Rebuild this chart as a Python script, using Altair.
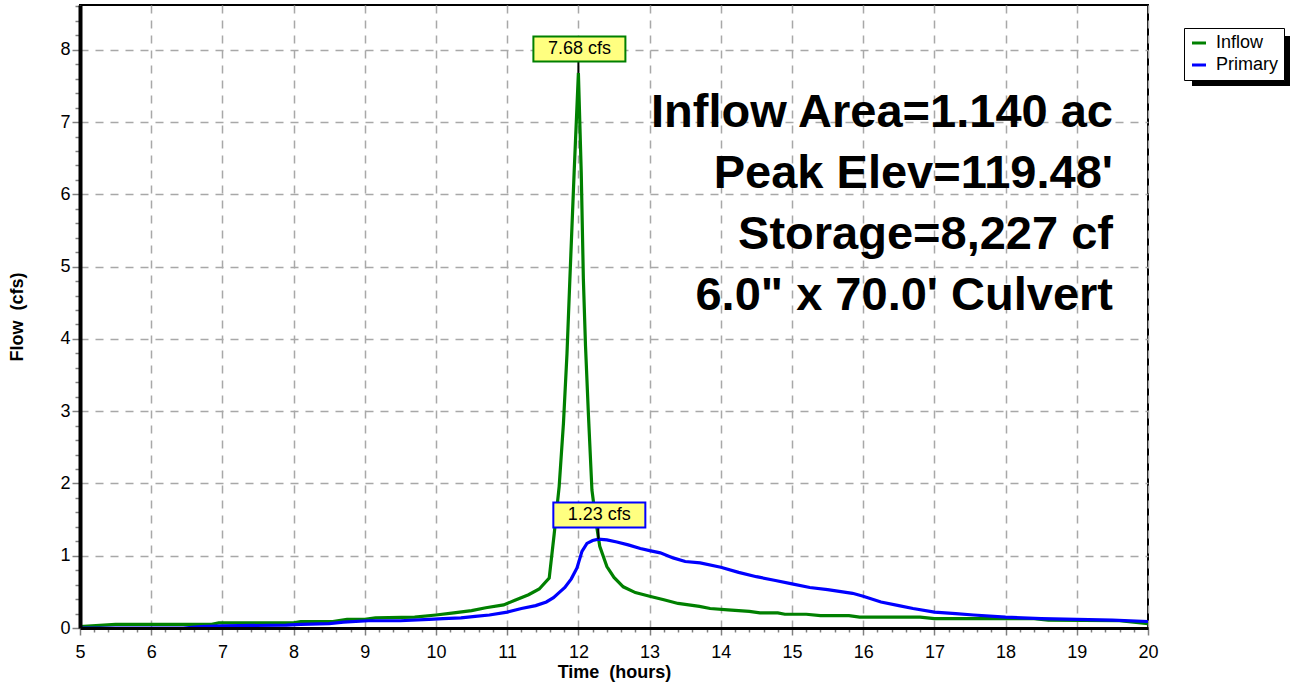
import altair as alt
import pandas as pd

FONT = "Liberation Sans"

# Hydrograph ordinates (hours, cfs)
inflow_time = [5.0, 5.5, 6.85, 6.95, 8.0, 8.1, 8.55, 8.75, 9.0, 9.15, 9.7, 10.0, 10.25,
               10.5, 10.7, 10.95, 11.1, 11.3, 11.45, 11.59, 11.66, 11.73, 11.79, 11.84,
               11.88, 11.94, 12.0, 12.04, 12.07, 12.1, 12.14, 12.19, 12.25, 12.3, 12.4,
               12.5, 12.63, 12.8, 13.0, 13.2, 13.4, 13.7, 13.85, 14.1, 14.4, 14.55, 14.8,
               14.9, 15.2, 15.4, 15.8, 15.95, 16.8, 17.0, 18.4, 18.6, 19.6, 20.0]
inflow_cfs = [0.02, 0.05, 0.05, 0.07, 0.07, 0.09, 0.09, 0.12, 0.12, 0.14, 0.15, 0.18, 0.21,
              0.24, 0.28, 0.32, 0.38, 0.46, 0.54, 0.69, 1.30, 1.96, 2.83, 3.80,
              4.82, 6.30, 7.68, 6.30, 4.82, 3.90, 2.97, 1.91, 1.45, 1.13, 0.85,
              0.70, 0.57, 0.49, 0.44, 0.39, 0.34, 0.30, 0.27, 0.25, 0.23, 0.21, 0.21,
              0.19, 0.19, 0.17, 0.17, 0.15, 0.15, 0.13, 0.13, 0.11, 0.10, 0.06]

primary_time = [5.0, 6.45, 6.7, 7.0, 7.9, 8.1, 8.5, 8.7, 9.05, 9.5, 9.9, 10.1, 10.35, 10.55,
                10.75, 11.0, 11.2, 11.4, 11.55, 11.65, 11.74, 11.81, 11.9, 11.98, 12.05,
                12.12, 12.2, 12.28, 12.4, 12.54, 12.7, 12.87, 13.0, 13.15, 13.33, 13.5,
                13.71, 14.0, 14.25, 14.5, 14.75, 15.0, 15.25, 15.5, 15.85, 16.0, 16.25,
                16.5, 16.7, 17.0, 17.3, 17.55, 18.0, 18.5, 19.0, 19.5, 20.0]
primary_cfs = [0.0, 0.0, 0.02, 0.03, 0.04, 0.05, 0.06, 0.08, 0.10, 0.10, 0.12, 0.13, 0.14, 0.16,
               0.18, 0.22, 0.27, 0.31, 0.36, 0.42, 0.50, 0.56, 0.68, 0.83, 1.06,
               1.17, 1.21, 1.23, 1.22, 1.19, 1.15, 1.10, 1.07, 1.04, 0.97, 0.92,
               0.90, 0.84, 0.77, 0.71, 0.66, 0.61, 0.56, 0.53, 0.48, 0.44, 0.36,
               0.31, 0.27, 0.22, 0.20, 0.18, 0.15, 0.13, 0.12, 0.11, 0.09]

series_names = ["Inflow", "Primary"]
series_colors = ["#008000", "#0000ff"]

peak_times = [12.0, 12.28]
peak_cfs = [7.68, 1.23]

info_lines = ["Inflow Area=1.140 ac", "Peak Elev=119.48'", "Storage=8,227 cf",
              "6.0\" x 70.0' Culvert"]

x_major = list(range(5, 21))
y_major = list(range(0, 9))
x_minor = [round(5 + 0.2 * i, 1) for i in range(76) if i % 5 != 0]
y_minor = [round(0.2 * i, 1) for i in range(44) if i % 5 != 0]

W, H = 1068, 623

flows = pd.concat([
    pd.DataFrame({"Series": "Inflow", "Time": inflow_time, "Flow": inflow_cfs}),
    pd.DataFrame({"Series": "Primary", "Time": primary_time, "Flow": primary_cfs}),
], ignore_index=True)

peaks = pd.DataFrame({
    "Series": series_names,
    "Time": peak_times,
    "Flow": peak_cfs,
    "Label": [f"{v:.2f} cfs" for v in peak_cfs],
})

x_scale = alt.Scale(domain=[5, 20], nice=False, zero=False)
y_scale = alt.Scale(domain=[0, 8.62], nice=False)
color_scale = alt.Scale(domain=series_names, range=series_colors)

# dashed grid behind everything
grid = alt.Chart(flows).mark_line(strokeOpacity=0).encode(
    x=alt.X("Time:Q", scale=x_scale, axis=alt.Axis(
        orient="bottom", values=x_major, grid=True, gridDash=[8, 7], gridColor="#a8a8a8",
        gridWidth=1.5, labels=False, ticks=False, domain=False, title=None, zindex=0)),
    y=alt.Y("Flow:Q", scale=y_scale, axis=alt.Axis(
        orient="left", values=y_major, grid=True, gridDash=[8, 7], gridColor="#a8a8a8",
        gridWidth=1.5, labels=False, ticks=False, domain=False, title=None, zindex=0)),
)

# minor ticks
minor = alt.Chart(flows).mark_line(strokeOpacity=0).encode(
    x=alt.X("Time:Q", scale=x_scale, axis=alt.Axis(
        orient="bottom", values=x_minor, grid=False, labels=False, ticks=True, tickSize=4,
        tickColor="#808080", tickWidth=1.5, domain=False, title=None, zindex=1)),
    y=alt.Y("Flow:Q", scale=y_scale, axis=alt.Axis(
        orient="left", values=y_minor, grid=False, labels=False, ticks=True, tickSize=5,
        tickColor="#808080", tickWidth=1.5, domain=False, title=None, zindex=1)),
)

lines = alt.Chart(flows).mark_line(strokeWidth=3.2).encode(
    x=alt.X("Time:Q", scale=x_scale, axis=alt.Axis(
        orient="bottom", values=x_major, format="d", grid=False, tickSize=7,
        tickColor="#808080", tickWidth=1.5, domainColor="black", domainWidth=3,
        labelFont=FONT, labelFontSize=18, labelColor="black", labelPadding=8,
        labelFlush=False, labelOverlap=False,
        title="Time \u00a0(hours)", titleFont=FONT, titleFontSize=18, titleFontWeight="bold",
        titleColor="black", titleX=534, titleY=44, titleBaseline="middle", titleAlign="center",
        zindex=1)),
    y=alt.Y("Flow:Q", scale=y_scale, axis=alt.Axis(
        orient="left", values=y_major, format="d", grid=False, tickSize=8,
        tickColor="#808080", tickWidth=1.5, domainColor="black", domainWidth=4,
        labelFont=FONT, labelFontSize=18, labelColor="black", labelPadding=2,
        labelFlush=False, labelOverlap=False,
        title="Flow \u00a0(cfs)", titleFont=FONT, titleFontSize=18, titleFontWeight="bold",
        titleColor="black", titleAngle=270, titleX=-63, titleY=311.5,
        titleBaseline="middle", titleAlign="center", zindex=1)),
    color=alt.Color("Series:N", scale=color_scale, legend=alt.Legend(
        orient="none", legendX=1104, legendY=23, title=None, fillColor="white",
        strokeColor="black", padding=6, labelFont=FONT, labelFontSize=18,
        labelColor="black", labelOffset=8, symbolType="stroke", symbolSize=196,
        symbolStrokeWidth=3, rowPadding=4)),
)

# peak callouts: leader line, boxed label
px = alt.X("Time:Q", scale=x_scale, axis=None)
py = alt.Y("Flow:Q", scale=y_scale, axis=None)

leader = alt.Chart(peaks).mark_rule(color="black", strokeWidth=2, y2Offset=-12).encode(
    x=px, y=py, y2="Flow:Q",
)

box_path = "M-1,-0.272L1,-0.272L1,0.272L-1,0.272Z"
boxes = alt.Chart(peaks).mark_point(
    shape=box_path, size=92 * 92, filled=True, fill="#ffff80", fillOpacity=1,
    strokeWidth=2, opacity=1, yOffset=-24, xOffset=1,
).encode(
    x=px, y=py,
    stroke=alt.Stroke("Series:N", scale=color_scale, legend=None),
)

box_text = alt.Chart(peaks).mark_text(
    font=FONT, fontSize=18, color="black", baseline="middle", align="center", dy=-24, dx=1,
).encode(x=px, y=py, text="Label:N")

info = alt.Chart(pd.DataFrame({"k": [0]})).mark_text(
    text=info_lines, font=FONT, fontSize=47, fontWeight="bold", color="black",
    align="right", baseline="alphabetic", lineHeight=61,
).encode(x=alt.value(1033), y=alt.value(122))

# drop shadow behind the legend box
shadow = alt.Chart(pd.DataFrame({"k": [0]})).mark_rect(color="black").encode(
    x=alt.value(1112), x2=alt.value(1210), y=alt.value(31), y2=alt.value(81),
)

chart = alt.layer(grid, minor, lines, leader, boxes, box_text, info, shadow).resolve_axis(
    x="independent", y="independent"
).properties(
    width=W, height=H,
    autosize=alt.AutoSizeParams(type="none"),
    padding={"left": 80, "top": 5, "right": 146, "bottom": 58},
    background="white",
).configure_view(stroke="black", strokeWidth=2)

chart.save("out.html", embed_options={"renderer": "svg", "actions": False})
